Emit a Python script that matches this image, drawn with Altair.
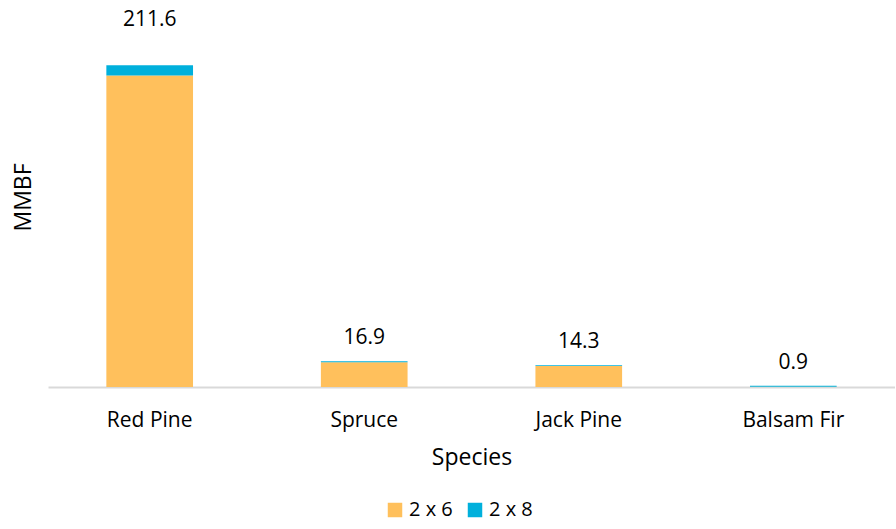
import altair as alt
import pandas as pd

species = ["Red Pine", "Spruce", "Jack Pine", "Balsam Fir"]
v2x6 = [205.0, 16.3, 13.8, 0.2]
v2x8 = [6.6, 0.6, 0.5, 0.7]
totals = [211.6, 16.9, 14.3, 0.9]
series = ["2 x 6", "2 x 8"]
colors = ["#FFC05C", "#00B0DC"]

rows = []
for s, a, b in zip(species, v2x6, v2x8):
    rows.append({"Species": s, "Size": series[0], "MMBF": a, "order": 0})
    rows.append({"Species": s, "Size": series[1], "MMBF": b, "order": 1})
df = pd.DataFrame(rows)
tdf = pd.DataFrame({"Species": species, "Total": totals})

FONT = "Open Sans"

x = alt.X("Species:N", sort=species, title="Species",
          scale=alt.Scale(paddingInner=0.596, paddingOuter=0.272),
          axis=alt.Axis(labelAngle=0, ticks=False, domainColor="#d9d9d9",
                        domainWidth=2, labelFontSize=21, labelPadding=22,
                        titleFontSize=23, titlePadding=16, labelColor="#000",
                        titleColor="#000", titleFontWeight="normal",
                        labelFont=FONT, titleFont=FONT))

bars = alt.Chart(df).mark_bar().encode(
    x=x,
    y=alt.Y("MMBF:Q", stack="zero", scale=alt.Scale(domain=[0, 250], nice=False),
            axis=alt.Axis(labels=False, ticks=False, grid=False, domain=False,
                          title="MMBF", titleFontSize=23, titleColor="#000",
                          titleFontWeight="normal", titleFont=FONT, titlePadding=13)),
    color=alt.Color("Size:N", scale=alt.Scale(domain=series, range=colors),
                    legend=alt.Legend(orient="none", legendX=337, legendY=493,
                                      direction="horizontal", title=None,
                                      symbolType="square", symbolSize=210,
                                      labelFontSize=20, labelFont=FONT,
                                      labelColor="#000", symbolStrokeWidth=0,
                                      columnPadding=12, labelOffset=4)),
    order=alt.Order("order:Q"),
)

base_t = alt.Chart(tdf)
txt = base_t.transform_filter(alt.datum.Species != "Red Pine").mark_text(
    dy=-23, fontSize=21, font=FONT, color="#000").encode(
    x=alt.X("Species:N", sort=species),
    y=alt.Y("Total:Q"),
    text=alt.Text("Total:Q", format=".1f"))
txt_big = base_t.transform_filter(alt.datum.Species == "Red Pine").mark_text(
    dy=-45, fontSize=21, font=FONT, color="#000").encode(
    x=alt.X("Species:N", sort=species),
    y=alt.Y("Total:Q"),
    text=alt.Text("Total:Q", format=".1f"))

chart = alt.layer(bars, txt, txt_big).properties(
    width=847, height=380,
    padding={"left": 12, "top": 7, "right": 0, "bottom": 4},
    background="white",
).configure_view(stroke=None).configure_legend(padding=0)

chart.save("out.html", embed_options={"renderer": "svg", "actions": False})
